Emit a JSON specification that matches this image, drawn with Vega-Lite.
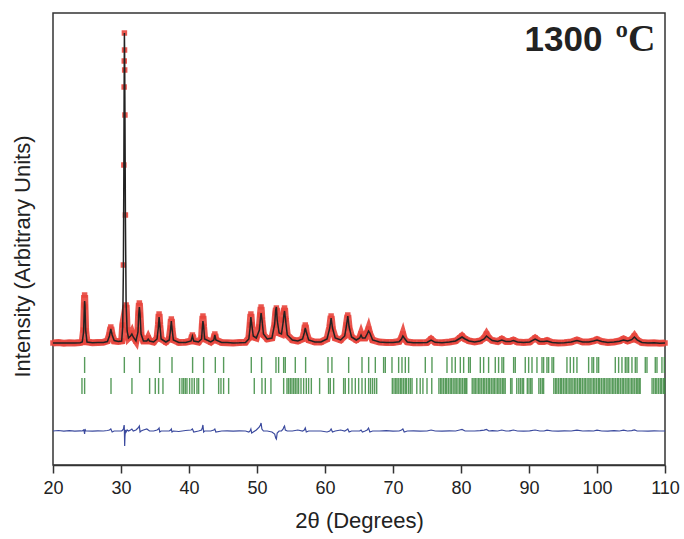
{
  "$schema": "https://vega.github.io/schema/vega-lite/v6.json",
  "width": 612,
  "height": 452,
  "autosize": "none",
  "padding": {"left": 53, "top": 13, "right": 19, "bottom": 74},
  "background": "white",
  "config": {
    "view": {"stroke": "#333333", "strokeWidth": 1.5},
    "font": "Liberation Sans",
    "axis": {"grid": false}
  },
  "datasets": {
    "profile": [
      {"tt": 20.0, "obs": 122, "calc": 122, "diff": 34},
      {"tt": 20.8, "obs": 122.5, "calc": 122, "diff": 34.5},
      {"tt": 21.6, "obs": 121.8, "calc": 122, "diff": 33.8},
      {"tt": 22.4, "obs": 122.3, "calc": 122, "diff": 34.3},
      {"tt": 23.2, "obs": 122, "calc": 122.1, "diff": 33.9},
      {"tt": 24.0, "obs": 122.4, "calc": 122.3, "diff": 34.2},
      {"tt": 24.3, "obs": 123, "calc": 123, "diff": 34},
      {"tt": 24.5, "obs": 135, "calc": 133, "diff": 35},
      {"tt": 24.6, "obs": 160, "calc": 156, "diff": 33},
      {"tt": 24.65, "obs": 170, "calc": 164, "diff": 31},
      {"tt": 24.7, "obs": 158, "calc": 160, "diff": 36},
      {"tt": 24.8, "obs": 134, "calc": 135, "diff": 34},
      {"tt": 25.0, "obs": 123, "calc": 123, "diff": 34},
      {"tt": 25.8, "obs": 122.2, "calc": 122.3, "diff": 33.8},
      {"tt": 26.6, "obs": 122.5, "calc": 122.4, "diff": 34.2},
      {"tt": 27.4, "obs": 122.8, "calc": 122.6, "diff": 34},
      {"tt": 28.0, "obs": 124, "calc": 123.5, "diff": 34.5},
      {"tt": 28.3, "obs": 130, "calc": 129, "diff": 35},
      {"tt": 28.5, "obs": 138, "calc": 136, "diff": 36},
      {"tt": 28.7, "obs": 130, "calc": 130, "diff": 33},
      {"tt": 29.0, "obs": 124, "calc": 124.5, "diff": 34},
      {"tt": 29.6, "obs": 123.5, "calc": 123.5, "diff": 34},
      {"tt": 30.1, "obs": 124, "calc": 124, "diff": 34},
      {"tt": 30.25, "obs": 140, "calc": 138, "diff": 35},
      {"tt": 30.35, "obs": 200, "calc": 196, "diff": 36},
      {"tt": 30.42, "obs": 300, "calc": 294, "diff": 38},
      {"tt": 30.46, "obs": 378, "calc": 372, "diff": 40},
      {"tt": 30.48, "obs": 404, "calc": 402, "diff": 39},
      {"tt": 30.5, "obs": 432, "calc": 432, "diff": 34},
      {"tt": 30.52, "obs": 415, "calc": 420, "diff": 27},
      {"tt": 30.54, "obs": 395, "calc": 405, "diff": 19},
      {"tt": 30.58, "obs": 350, "calc": 352, "diff": 28},
      {"tt": 30.65, "obs": 250, "calc": 248, "diff": 35},
      {"tt": 30.75, "obs": 160, "calc": 162, "diff": 33},
      {"tt": 30.9, "obs": 135, "calc": 134, "diff": 35},
      {"tt": 31.1, "obs": 127, "calc": 127, "diff": 34},
      {"tt": 31.4, "obs": 129, "calc": 129, "diff": 35},
      {"tt": 31.6, "obs": 132, "calc": 131, "diff": 36},
      {"tt": 31.8, "obs": 128, "calc": 128, "diff": 34},
      {"tt": 32.2, "obs": 124, "calc": 124, "diff": 35},
      {"tt": 32.5, "obs": 135, "calc": 133, "diff": 37},
      {"tt": 32.6, "obs": 152, "calc": 150, "diff": 38},
      {"tt": 32.7, "obs": 162, "calc": 158, "diff": 39},
      {"tt": 32.8, "obs": 150, "calc": 151, "diff": 33},
      {"tt": 32.95, "obs": 130, "calc": 131, "diff": 34},
      {"tt": 33.3, "obs": 124, "calc": 124, "diff": 35},
      {"tt": 33.8, "obs": 124, "calc": 124, "diff": 36},
      {"tt": 34.0, "obs": 127, "calc": 126, "diff": 35},
      {"tt": 34.2, "obs": 124, "calc": 124, "diff": 34},
      {"tt": 34.8, "obs": 123, "calc": 123, "diff": 34},
      {"tt": 35.3, "obs": 127, "calc": 126, "diff": 35},
      {"tt": 35.5, "obs": 140, "calc": 138, "diff": 36},
      {"tt": 35.6, "obs": 151, "calc": 148, "diff": 37},
      {"tt": 35.7, "obs": 140, "calc": 141, "diff": 33},
      {"tt": 35.9, "obs": 126, "calc": 126, "diff": 34},
      {"tt": 36.6, "obs": 123, "calc": 123, "diff": 34},
      {"tt": 37.1, "obs": 126, "calc": 125, "diff": 34},
      {"tt": 37.3, "obs": 137, "calc": 136, "diff": 35},
      {"tt": 37.4, "obs": 146, "calc": 144, "diff": 36},
      {"tt": 37.5, "obs": 136, "calc": 137, "diff": 33},
      {"tt": 37.7, "obs": 125, "calc": 125, "diff": 34},
      {"tt": 38.5, "obs": 122.5, "calc": 122.5, "diff": 33.5},
      {"tt": 39.5, "obs": 122.8, "calc": 122.6, "diff": 34.5},
      {"tt": 40.3, "obs": 124, "calc": 124, "diff": 35},
      {"tt": 40.5, "obs": 130, "calc": 129, "diff": 36},
      {"tt": 40.7, "obs": 124, "calc": 124, "diff": 33},
      {"tt": 41.4, "obs": 123, "calc": 123, "diff": 34},
      {"tt": 41.85, "obs": 127, "calc": 126, "diff": 35},
      {"tt": 41.95, "obs": 139, "calc": 136, "diff": 37},
      {"tt": 42.05, "obs": 149, "calc": 144, "diff": 40},
      {"tt": 42.15, "obs": 138, "calc": 139, "diff": 33},
      {"tt": 42.3, "obs": 126, "calc": 126, "diff": 34},
      {"tt": 43.2, "obs": 123, "calc": 123, "diff": 34},
      {"tt": 43.65, "obs": 126, "calc": 125, "diff": 35},
      {"tt": 43.8, "obs": 131, "calc": 130, "diff": 36},
      {"tt": 43.95, "obs": 125, "calc": 125, "diff": 33},
      {"tt": 44.8, "obs": 122.5, "calc": 122.5, "diff": 34},
      {"tt": 45.6, "obs": 122.3, "calc": 122.4, "diff": 34.2},
      {"tt": 46.5, "obs": 122, "calc": 122.1, "diff": 33.8},
      {"tt": 47.4, "obs": 122.4, "calc": 122.2, "diff": 34.1},
      {"tt": 48.3, "obs": 122.6, "calc": 122.5, "diff": 34},
      {"tt": 48.8, "obs": 127, "calc": 126, "diff": 33},
      {"tt": 48.98, "obs": 140, "calc": 137, "diff": 34},
      {"tt": 49.1, "obs": 151, "calc": 148, "diff": 36},
      {"tt": 49.22, "obs": 140, "calc": 141, "diff": 32},
      {"tt": 49.45, "obs": 128, "calc": 129, "diff": 33},
      {"tt": 49.9, "obs": 127, "calc": 127, "diff": 35},
      {"tt": 50.35, "obs": 138, "calc": 135, "diff": 38},
      {"tt": 50.5, "obs": 150, "calc": 146, "diff": 40},
      {"tt": 50.6, "obs": 158, "calc": 152, "diff": 42},
      {"tt": 50.72, "obs": 145, "calc": 146, "diff": 36},
      {"tt": 50.95, "obs": 130, "calc": 131, "diff": 34},
      {"tt": 51.5, "obs": 126, "calc": 126, "diff": 34},
      {"tt": 52.2, "obs": 127, "calc": 127, "diff": 33},
      {"tt": 52.6, "obs": 140, "calc": 141, "diff": 31},
      {"tt": 52.75, "obs": 152, "calc": 155, "diff": 27},
      {"tt": 52.85, "obs": 157, "calc": 158, "diff": 26},
      {"tt": 52.97, "obs": 146, "calc": 145, "diff": 32},
      {"tt": 53.25, "obs": 132, "calc": 132, "diff": 34},
      {"tt": 53.6, "obs": 131, "calc": 131, "diff": 34},
      {"tt": 53.85, "obs": 145, "calc": 143, "diff": 36},
      {"tt": 53.95, "obs": 153, "calc": 150, "diff": 38},
      {"tt": 54.05, "obs": 157, "calc": 154, "diff": 39},
      {"tt": 54.17, "obs": 146, "calc": 147, "diff": 35},
      {"tt": 54.45, "obs": 130, "calc": 130, "diff": 34},
      {"tt": 55.2, "obs": 125, "calc": 125, "diff": 34},
      {"tt": 56.0, "obs": 124, "calc": 124, "diff": 35},
      {"tt": 56.7, "obs": 126, "calc": 126, "diff": 34},
      {"tt": 56.95, "obs": 133, "calc": 132, "diff": 35},
      {"tt": 57.1, "obs": 140, "calc": 137, "diff": 37},
      {"tt": 57.25, "obs": 132, "calc": 133, "diff": 33},
      {"tt": 57.6, "obs": 125, "calc": 125, "diff": 34},
      {"tt": 58.5, "obs": 123, "calc": 123, "diff": 34},
      {"tt": 59.4, "obs": 123, "calc": 123, "diff": 34},
      {"tt": 60.3, "obs": 126, "calc": 126, "diff": 33},
      {"tt": 60.7, "obs": 138, "calc": 137, "diff": 34},
      {"tt": 60.9, "obs": 149, "calc": 147, "diff": 36},
      {"tt": 61.1, "obs": 136, "calc": 137, "diff": 33},
      {"tt": 61.5, "obs": 127, "calc": 127, "diff": 34},
      {"tt": 62.3, "obs": 125, "calc": 125, "diff": 35},
      {"tt": 62.9, "obs": 129, "calc": 129, "diff": 34},
      {"tt": 63.15, "obs": 140, "calc": 139, "diff": 35},
      {"tt": 63.35, "obs": 150, "calc": 149, "diff": 36},
      {"tt": 63.55, "obs": 137, "calc": 138, "diff": 33},
      {"tt": 63.9, "obs": 128, "calc": 128, "diff": 34},
      {"tt": 64.6, "obs": 125, "calc": 125, "diff": 34},
      {"tt": 65.1, "obs": 127, "calc": 127, "diff": 34},
      {"tt": 65.3, "obs": 131, "calc": 130, "diff": 35},
      {"tt": 65.5, "obs": 127, "calc": 127, "diff": 33},
      {"tt": 65.9, "obs": 127, "calc": 127, "diff": 34},
      {"tt": 66.2, "obs": 132, "calc": 131, "diff": 35},
      {"tt": 66.4, "obs": 136, "calc": 134, "diff": 37},
      {"tt": 66.6, "obs": 131, "calc": 132, "diff": 33},
      {"tt": 67.0, "obs": 125, "calc": 125, "diff": 34},
      {"tt": 68.0, "obs": 123, "calc": 123, "diff": 34},
      {"tt": 69.0, "obs": 122.6, "calc": 122.6, "diff": 34.3},
      {"tt": 70.0, "obs": 122.5, "calc": 122.5, "diff": 33.8},
      {"tt": 70.9, "obs": 123.5, "calc": 123.3, "diff": 34},
      {"tt": 71.25, "obs": 127, "calc": 126, "diff": 35},
      {"tt": 71.45, "obs": 131, "calc": 129, "diff": 36},
      {"tt": 71.65, "obs": 126, "calc": 127, "diff": 33},
      {"tt": 72.1, "obs": 123, "calc": 123, "diff": 34},
      {"tt": 73.0, "obs": 122.2, "calc": 122.2, "diff": 34.2},
      {"tt": 74.0, "obs": 122.2, "calc": 122.2, "diff": 33.8},
      {"tt": 75.0, "obs": 122.5, "calc": 122.5, "diff": 34},
      {"tt": 75.6, "obs": 126, "calc": 125, "diff": 35},
      {"tt": 76.2, "obs": 122.6, "calc": 122.7, "diff": 34},
      {"tt": 77.2, "obs": 122.3, "calc": 122.3, "diff": 33.9},
      {"tt": 78.3, "obs": 123, "calc": 123, "diff": 34.2},
      {"tt": 79.2, "obs": 124, "calc": 124, "diff": 34},
      {"tt": 79.8, "obs": 127, "calc": 126.5, "diff": 35},
      {"tt": 80.15, "obs": 129, "calc": 128, "diff": 35.5},
      {"tt": 80.6, "obs": 126, "calc": 126, "diff": 34},
      {"tt": 81.2, "obs": 124, "calc": 124, "diff": 34},
      {"tt": 82.0, "obs": 123, "calc": 123, "diff": 34},
      {"tt": 82.8, "obs": 124, "calc": 124, "diff": 34.3},
      {"tt": 83.4, "obs": 127, "calc": 126, "diff": 34.8},
      {"tt": 83.75, "obs": 131, "calc": 129, "diff": 35.5},
      {"tt": 84.1, "obs": 127, "calc": 127, "diff": 34},
      {"tt": 84.6, "obs": 124.5, "calc": 124.5, "diff": 34.3},
      {"tt": 85.4, "obs": 123.5, "calc": 123.5, "diff": 34},
      {"tt": 86.0, "obs": 126, "calc": 125, "diff": 35},
      {"tt": 86.6, "obs": 123.5, "calc": 123.5, "diff": 34},
      {"tt": 87.2, "obs": 123.5, "calc": 123.4, "diff": 34.2},
      {"tt": 87.7, "obs": 125, "calc": 124.5, "diff": 35},
      {"tt": 88.3, "obs": 123, "calc": 123, "diff": 34},
      {"tt": 89.2, "obs": 122.5, "calc": 122.5, "diff": 33.8},
      {"tt": 90.1, "obs": 123, "calc": 123, "diff": 34.2},
      {"tt": 90.9, "obs": 127, "calc": 126, "diff": 35},
      {"tt": 91.6, "obs": 123.5, "calc": 123.5, "diff": 34},
      {"tt": 92.2, "obs": 123.5, "calc": 123.5, "diff": 34},
      {"tt": 92.65, "obs": 124.5, "calc": 124, "diff": 34.8},
      {"tt": 93.4, "obs": 122.5, "calc": 122.5, "diff": 34},
      {"tt": 94.3, "obs": 122, "calc": 122, "diff": 33.8},
      {"tt": 95.2, "obs": 122.3, "calc": 122.3, "diff": 34.2},
      {"tt": 96.2, "obs": 123, "calc": 123, "diff": 34},
      {"tt": 97.05, "obs": 125, "calc": 124.5, "diff": 34.8},
      {"tt": 97.9, "obs": 123, "calc": 123, "diff": 34},
      {"tt": 98.8, "obs": 123, "calc": 123.1, "diff": 34.2},
      {"tt": 99.5, "obs": 124, "calc": 124, "diff": 34},
      {"tt": 100.0, "obs": 125.5, "calc": 125, "diff": 34.8},
      {"tt": 100.7, "obs": 123.5, "calc": 123.5, "diff": 34},
      {"tt": 101.6, "obs": 122.5, "calc": 122.5, "diff": 33.8},
      {"tt": 102.5, "obs": 123, "calc": 123, "diff": 34.3},
      {"tt": 103.3, "obs": 124, "calc": 123.8, "diff": 34},
      {"tt": 103.9, "obs": 126, "calc": 125, "diff": 34.8},
      {"tt": 104.5, "obs": 124, "calc": 124, "diff": 34},
      {"tt": 105.1, "obs": 125.5, "calc": 125.3, "diff": 34.3},
      {"tt": 105.5, "obs": 129, "calc": 128, "diff": 35},
      {"tt": 105.9, "obs": 125, "calc": 125.2, "diff": 34},
      {"tt": 106.6, "obs": 122.5, "calc": 122.5, "diff": 34},
      {"tt": 107.5, "obs": 122, "calc": 122, "diff": 33.8},
      {"tt": 108.4, "obs": 122.2, "calc": 122.2, "diff": 34.2},
      {"tt": 109.2, "obs": 121.8, "calc": 121.8, "diff": 34},
      {"tt": 110.0, "obs": 122, "calc": 122, "diff": 34}
    ],
    "phase1": [
      {"tt": 24.65}, {"tt": 30.49}, {"tt": 32.74}, {"tt": 35.68}, {"tt": 37.5}, {"tt": 40.53}, {"tt": 42.15}, {"tt": 43.87}, {"tt": 45.09},
      {"tt": 49.16}, {"tt": 50.68}, {"tt": 52.79}, {"tt": 53.18}, {"tt": 53.92}, {"tt": 54.16}, {"tt": 55.63}, {"tt": 57.15}, {"tt": 60.44},
      {"tt": 61.02}, {"tt": 63.48}, {"tt": 65.44}, {"tt": 66.42}, {"tt": 67.4}, {"tt": 68.62}, {"tt": 68.87}, {"tt": 69.85}, {"tt": 70.83},
      {"tt": 71.32}, {"tt": 71.81}, {"tt": 72.3}, {"tt": 74.75}, {"tt": 75.73}, {"tt": 77.94}, {"tt": 78.67}, {"tt": 79.16}, {"tt": 79.9},
      {"tt": 80.39}, {"tt": 81.12}, {"tt": 81.37}, {"tt": 82.84}, {"tt": 83.33}, {"tt": 84.06}, {"tt": 85.04}, {"tt": 85.53}, {"tt": 86.02},
      {"tt": 86.27}, {"tt": 87.74}, {"tt": 87.98}, {"tt": 89.45}, {"tt": 89.95}, {"tt": 90.44}, {"tt": 91.17}, {"tt": 91.91}, {"tt": 92.15},
      {"tt": 92.64}, {"tt": 92.89}, {"tt": 93.38}, {"tt": 93.62}, {"tt": 95.58}, {"tt": 96.07}, {"tt": 96.56}, {"tt": 97.05}, {"tt": 98.77},
      {"tt": 99.26}, {"tt": 99.5}, {"tt": 99.99}, {"tt": 100.24}, {"tt": 102.69}, {"tt": 103.18}, {"tt": 103.67}, {"tt": 104.16}, {"tt": 104.41},
      {"tt": 104.65}, {"tt": 105.14}, {"tt": 105.63}, {"tt": 105.88}, {"tt": 107.1}, {"tt": 107.35}, {"tt": 108.57}, {"tt": 108.82}, {"tt": 109.55}, {"tt": 109.9}
    ],
    "phase2": [
      {"tt": 24.26}, {"tt": 24.65}, {"tt": 28.53}, {"tt": 31.61}, {"tt": 34.21}, {"tt": 35.04}, {"tt": 35.53}, {"tt": 36.17}, {"tt": 38.62},
      {"tt": 38.97}, {"tt": 39.21}, {"tt": 39.46}, {"tt": 39.7}, {"tt": 40.09}, {"tt": 40.44}, {"tt": 40.78}, {"tt": 41.17}, {"tt": 41.42},
      {"tt": 42.15}, {"tt": 44.36}, {"tt": 44.7}, {"tt": 45.09}, {"tt": 45.83}, {"tt": 49.6}, {"tt": 50.73}, {"tt": 51.22}, {"tt": 52.05},
      {"tt": 53.92}, {"tt": 54.41}, {"tt": 54.65}, {"tt": 54.9}, {"tt": 55.14}, {"tt": 55.39}, {"tt": 55.63}, {"tt": 55.88}, {"tt": 56.12},
      {"tt": 56.47}, {"tt": 56.86}, {"tt": 57.25}, {"tt": 57.59}, {"tt": 57.99}, {"tt": 59.21}, {"tt": 60.53}, {"tt": 60.78}, {"tt": 61.27},
      {"tt": 62.74}, {"tt": 62.98}, {"tt": 63.48}, {"tt": 63.97}, {"tt": 64.46}, {"tt": 64.95}, {"tt": 65.44}, {"tt": 65.93}, {"tt": 66.42},
      {"tt": 66.7}, {"tt": 67.0}, {"tt": 67.3}, {"tt": 67.6},
      {"tt": 69.9}, {"tt": 70.15}, {"tt": 70.4}, {"tt": 70.6}, {"tt": 70.85}, {"tt": 71.1}, {"tt": 71.3}, {"tt": 71.55}, {"tt": 71.8},
      {"tt": 72.0}, {"tt": 72.3}, {"tt": 72.55}, {"tt": 72.8},
      {"tt": 73.5}, {"tt": 74.0}, {"tt": 74.4}, {"tt": 75.0}, {"tt": 75.7},
      {"tt": 76.75}, {"tt": 77.0}, {"tt": 77.2}, {"tt": 77.45}, {"tt": 77.7}, {"tt": 77.9}, {"tt": 78.15}, {"tt": 78.4}, {"tt": 78.6},
      {"tt": 78.85}, {"tt": 79.1}, {"tt": 79.3}, {"tt": 79.55}, {"tt": 79.8}, {"tt": 80.0}, {"tt": 80.25}, {"tt": 80.5}, {"tt": 80.7}, {"tt": 80.85},
      {"tt": 81.65}, {"tt": 81.9}, {"tt": 82.1}, {"tt": 82.35}, {"tt": 82.6}, {"tt": 82.8}, {"tt": 83.05}, {"tt": 83.3}, {"tt": 83.5},
      {"tt": 83.75}, {"tt": 84.0}, {"tt": 84.2}, {"tt": 84.45}, {"tt": 84.7}, {"tt": 84.9}, {"tt": 85.15}, {"tt": 85.4}, {"tt": 85.6},
      {"tt": 85.85}, {"tt": 86.1}, {"tt": 86.3}, {"tt": 86.5},
      {"tt": 87.3}, {"tt": 87.5}, {"tt": 88.2}, {"tt": 88.5}, {"tt": 88.75}, {"tt": 89.0}, {"tt": 89.2}, {"tt": 89.75}, {"tt": 90.0},
      {"tt": 90.25}, {"tt": 90.45}, {"tt": 91.45}, {"tt": 91.7}, {"tt": 91.95}, {"tt": 92.15},
      {"tt": 93.65}, {"tt": 93.9}, {"tt": 94.1}, {"tt": 94.35}, {"tt": 94.6}, {"tt": 94.8}, {"tt": 95.05}, {"tt": 95.3}, {"tt": 95.5},
      {"tt": 95.75}, {"tt": 96.0}, {"tt": 96.2}, {"tt": 96.45}, {"tt": 96.7}, {"tt": 96.9}, {"tt": 97.15}, {"tt": 97.4}, {"tt": 97.6},
      {"tt": 97.85}, {"tt": 98.1}, {"tt": 98.3}, {"tt": 98.55}, {"tt": 98.8}, {"tt": 99.0}, {"tt": 99.25}, {"tt": 99.5}, {"tt": 99.7},
      {"tt": 99.95}, {"tt": 100.2}, {"tt": 100.4}, {"tt": 100.65}, {"tt": 100.9}, {"tt": 101.1}, {"tt": 101.35}, {"tt": 101.6}, {"tt": 101.8},
      {"tt": 102.05}, {"tt": 102.3}, {"tt": 102.5}, {"tt": 102.75}, {"tt": 103.0}, {"tt": 103.2}, {"tt": 103.45}, {"tt": 103.7}, {"tt": 103.9},
      {"tt": 104.15}, {"tt": 104.4}, {"tt": 104.6}, {"tt": 104.85}, {"tt": 105.1}, {"tt": 105.3}, {"tt": 105.55}, {"tt": 105.8}, {"tt": 106.0},
      {"tt": 106.2}, {"tt": 106.35},
      {"tt": 108.1}, {"tt": 108.35}, {"tt": 108.6}, {"tt": 108.8}, {"tt": 109.05}, {"tt": 109.3}, {"tt": 109.5}, {"tt": 109.75}, {"tt": 109.95}
    ]
  },
  "layer": [
    {
      "data": {"name": "profile"},
      "transform": [{"filter": "datum.obs < 180"}],
      "mark": {"type": "line", "color": "#e8453c", "strokeWidth": 7, "opacity": 0.9},
      "encoding": {
        "x": {
          "field": "tt",
          "type": "quantitative",
          "scale": {"domain": [20, 110], "nice": false, "zero": false},
          "axis": {
            "values": [20, 25, 30, 35, 40, 45, 50, 55, 60, 65, 70, 75, 80, 85, 90, 95, 100, 105, 110],
            "labelExpr": "datum.value % 10 === 0 ? datum.label : ''",
            "labelOverlap": false,
            "labelFlush": false,
            "tickSize": {"condition": {"test": "datum.value % 10 === 0", "value": 8}, "value": 5},
            "tickColor": "#333333",
            "tickWidth": 1.5,
            "domainColor": "#333333",
            "domainWidth": 1.5,
            "labelFontSize": 18,
            "labelColor": "#222222",
            "labelPadding": 6,
            "title": "2θ (Degrees)",
            "titleFontSize": 22,
            "titleFontWeight": "normal",
            "titleColor": "#222222",
            "titlePadding": 13
          }
        },
        "y": {
          "field": "obs",
          "type": "quantitative",
          "scale": {"domain": [0, 452], "nice": false},
          "axis": {
            "title": "Intensity (Arbitrary Units)",
            "labels": false,
            "ticks": false,
            "domain": false,
            "titleFontSize": 22,
            "titleFontWeight": "normal",
            "titleColor": "#222222",
            "titlePadding": 19,
            "titleY": 243
          }
        }
      }
    },
    {
      "data": {"name": "profile"},
      "mark": {"type": "point", "shape": "square", "filled": true, "size": 30, "color": "#e8453c", "opacity": 0.9},
      "encoding": {"x": {"field": "tt", "type": "quantitative"}, "y": {"field": "obs", "type": "quantitative"}}
    },
    {
      "data": {"name": "profile"},
      "mark": {"type": "line", "color": "#222222", "strokeWidth": 1.5},
      "encoding": {"x": {"field": "tt", "type": "quantitative"}, "y": {"field": "calc", "type": "quantitative"}}
    },
    {
      "data": {"name": "profile"},
      "mark": {"type": "line", "color": "#3b4a9e", "strokeWidth": 1.2},
      "encoding": {"x": {"field": "tt", "type": "quantitative"}, "y": {"field": "diff", "type": "quantitative"}}
    },
    {
      "data": {"name": "phase1"},
      "mark": {"type": "rule", "color": "#3a8a3e", "strokeWidth": 1.4, "opacity": 0.85},
      "encoding": {"x": {"field": "tt", "type": "quantitative"}, "y": {"datum": 92}, "y2": {"datum": 108}}
    },
    {
      "data": {"name": "phase2"},
      "mark": {"type": "rule", "color": "#3a8a3e", "strokeWidth": 1.4, "opacity": 0.85},
      "encoding": {"x": {"field": "tt", "type": "quantitative"}, "y": {"datum": 71}, "y2": {"datum": 87}}
    },
    {
      "data": {"values": [{"label": "1300"}]},
      "mark": {"type": "text", "align": "right", "baseline": "alphabetic", "fontSize": 35, "fontWeight": "bold", "font": "Liberation Sans", "color": "#222222"},
      "encoding": {"x": {"datum": 100.8}, "y": {"datum": 414}, "text": {"field": "label"}}
    },
    {
      "data": {"values": [{"label": "ºC"}]},
      "mark": {"type": "text", "align": "right", "baseline": "alphabetic", "fontSize": 38, "fontWeight": "bold", "font": "Liberation Serif", "color": "#222222"},
      "encoding": {"x": {"datum": 108.6}, "y": {"datum": 414}, "text": {"field": "label"}}
    }
  ]
}
